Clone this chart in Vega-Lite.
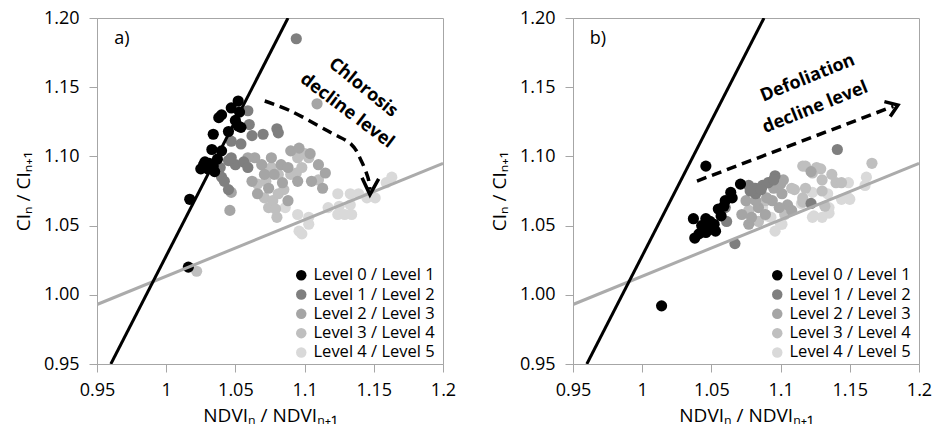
{
  "$schema": "https://vega.github.io/schema/vega-lite/v6.json",
  "background": "white",
  "padding": {"left": 13, "top": 8, "right": 0, "bottom": 5},
  "spacing": 32,
  "config": {
    "font": "Open Sans",
    "view": {"stroke": "#a6a6a6", "strokeWidth": 1},
    "axis": {"grid": false, "domainColor": "#a6a6a6", "tickColor": "#a6a6a6", "labelColor": "#000000", "labelFontSize": 18, "titleFontSize": 19, "titleFontWeight": "normal", "titleColor": "#000000", "tickSize": 8, "labelFlush": false},
    "axisX": {"labelPadding": 9, "titlePadding": 7},
    "axisY": {"labelPadding": 10, "titlePadding": 10}
  },
  "resolve": {"scale": {"color": "independent"}, "legend": {"color": "independent"}},
  "datasets": {
    "points": [
      {"panel":"a","level":"Level 4 / Level 5","x":1.163,"y":1.085},{"panel":"a","level":"Level 4 / Level 5","x":1.159,"y":1.081},{"panel":"a","level":"Level 4 / Level 5","x":1.151,"y":1.070},{"panel":"a","level":"Level 4 / Level 5","x":1.145,"y":1.070},{"panel":"a","level":"Level 4 / Level 5","x":1.139,"y":1.073},{"panel":"a","level":"Level 4 / Level 5","x":1.133,"y":1.073},{"panel":"a","level":"Level 4 / Level 5","x":1.133,"y":1.065},{"panel":"a","level":"Level 4 / Level 5","x":1.124,"y":1.073},{"panel":"a","level":"Level 4 / Level 5","x":1.124,"y":1.058},{"panel":"a","level":"Level 4 / Level 5","x":1.117,"y":1.063},{"panel":"a","level":"Level 4 / Level 5","x":1.103,"y":1.056},{"panel":"a","level":"Level 4 / Level 5","x":1.096,"y":1.046},{"panel":"a","level":"Level 4 / Level 5","x":1.103,"y":1.051},{"panel":"a","level":"Level 4 / Level 5","x":1.095,"y":1.058},{"panel":"a","level":"Level 4 / Level 5","x":1.086,"y":1.063},{"panel":"a","level":"Level 4 / Level 5","x":1.129,"y":1.058},{"panel":"a","level":"Level 4 / Level 5","x":1.134,"y":1.058},{"panel":"a","level":"Level 4 / Level 5","x":1.125,"y":1.064},{"panel":"a","level":"Level 4 / Level 5","x":1.098,"y":1.044},
      {"panel":"a","level":"Level 3 / Level 4","x":1.066,"y":1.080},{"panel":"a","level":"Level 3 / Level 4","x":1.071,"y":1.070},{"panel":"a","level":"Level 3 / Level 4","x":1.074,"y":1.063},{"panel":"a","level":"Level 3 / Level 4","x":1.080,"y":1.056},{"panel":"a","level":"Level 3 / Level 4","x":1.077,"y":1.068},{"panel":"a","level":"Level 3 / Level 4","x":1.081,"y":1.073},{"panel":"a","level":"Level 3 / Level 4","x":1.095,"y":1.099},{"panel":"a","level":"Level 3 / Level 4","x":1.100,"y":1.102},{"panel":"a","level":"Level 3 / Level 4","x":1.103,"y":1.099},{"panel":"a","level":"Level 3 / Level 4","x":1.094,"y":1.088},{"panel":"a","level":"Level 3 / Level 4","x":1.110,"y":1.083},{"panel":"a","level":"Level 3 / Level 4","x":1.081,"y":1.087},{"panel":"a","level":"Level 3 / Level 4","x":1.090,"y":1.087},{"panel":"a","level":"Level 3 / Level 4","x":1.076,"y":1.092},{"panel":"a","level":"Level 3 / Level 4","x":1.085,"y":1.076},{"panel":"a","level":"Level 3 / Level 4","x":1.072,"y":1.082},{"panel":"a","level":"Level 3 / Level 4","x":1.022,"y":1.017},{"panel":"a","level":"Level 3 / Level 4","x":1.079,"y":1.062},{"panel":"a","level":"Level 3 / Level 4","x":1.098,"y":1.092},
      {"panel":"a","level":"Level 2 / Level 3","x":1.109,"y":1.138},{"panel":"a","level":"Level 2 / Level 3","x":1.046,"y":1.061},{"panel":"a","level":"Level 2 / Level 3","x":1.047,"y":1.074},{"panel":"a","level":"Level 2 / Level 3","x":1.064,"y":1.099},{"panel":"a","level":"Level 2 / Level 3","x":1.069,"y":1.094},{"panel":"a","level":"Level 2 / Level 3","x":1.076,"y":1.099},{"panel":"a","level":"Level 2 / Level 3","x":1.083,"y":1.094},{"panel":"a","level":"Level 2 / Level 3","x":1.088,"y":1.092},{"panel":"a","level":"Level 2 / Level 3","x":1.090,"y":1.104},{"panel":"a","level":"Level 2 / Level 3","x":1.096,"y":1.106},{"panel":"a","level":"Level 2 / Level 3","x":1.104,"y":1.102},{"panel":"a","level":"Level 2 / Level 3","x":1.110,"y":1.094},{"panel":"a","level":"Level 2 / Level 3","x":1.115,"y":1.088},{"panel":"a","level":"Level 2 / Level 3","x":1.113,"y":1.077},{"panel":"a","level":"Level 2 / Level 3","x":1.105,"y":1.082},{"panel":"a","level":"Level 2 / Level 3","x":1.095,"y":1.082},{"panel":"a","level":"Level 2 / Level 3","x":1.084,"y":1.081},{"panel":"a","level":"Level 2 / Level 3","x":1.074,"y":1.077},{"panel":"a","level":"Level 2 / Level 3","x":1.066,"y":1.073},{"panel":"a","level":"Level 2 / Level 3","x":1.062,"y":1.082},{"panel":"a","level":"Level 2 / Level 3","x":1.088,"y":1.068},{"panel":"a","level":"Level 2 / Level 3","x":1.059,"y":1.099},{"panel":"a","level":"Level 2 / Level 3","x":1.071,"y":1.087},{"panel":"a","level":"Level 2 / Level 3","x":1.078,"y":1.087},
      {"panel":"a","level":"Level 1 / Level 2","x":1.094,"y":1.185},{"panel":"a","level":"Level 1 / Level 2","x":1.059,"y":1.133},{"panel":"a","level":"Level 1 / Level 2","x":1.060,"y":1.123},{"panel":"a","level":"Level 1 / Level 2","x":1.070,"y":1.116},{"panel":"a","level":"Level 1 / Level 2","x":1.080,"y":1.120},{"panel":"a","level":"Level 1 / Level 2","x":1.081,"y":1.117},{"panel":"a","level":"Level 1 / Level 2","x":1.062,"y":1.115},{"panel":"a","level":"Level 1 / Level 2","x":1.047,"y":1.111},{"panel":"a","level":"Level 1 / Level 2","x":1.054,"y":1.109},{"panel":"a","level":"Level 1 / Level 2","x":1.045,"y":1.097},{"panel":"a","level":"Level 1 / Level 2","x":1.050,"y":1.094},{"panel":"a","level":"Level 1 / Level 2","x":1.056,"y":1.096},{"panel":"a","level":"Level 1 / Level 2","x":1.040,"y":1.085},{"panel":"a","level":"Level 1 / Level 2","x":1.042,"y":1.082},{"panel":"a","level":"Level 1 / Level 2","x":1.045,"y":1.076},{"panel":"a","level":"Level 1 / Level 2","x":1.059,"y":1.092},{"panel":"a","level":"Level 1 / Level 2","x":1.039,"y":1.092},{"panel":"a","level":"Level 1 / Level 2","x":1.047,"y":1.099},
      {"panel":"a","level":"Level 0 / Level 1","x":1.052,"y":1.140},{"panel":"a","level":"Level 0 / Level 1","x":1.047,"y":1.135},{"panel":"a","level":"Level 0 / Level 1","x":1.040,"y":1.130},{"panel":"a","level":"Level 0 / Level 1","x":1.038,"y":1.128},{"panel":"a","level":"Level 0 / Level 1","x":1.053,"y":1.132},{"panel":"a","level":"Level 0 / Level 1","x":1.050,"y":1.126},{"panel":"a","level":"Level 0 / Level 1","x":1.052,"y":1.122},{"panel":"a","level":"Level 0 / Level 1","x":1.034,"y":1.116},{"panel":"a","level":"Level 0 / Level 1","x":1.045,"y":1.118},{"panel":"a","level":"Level 0 / Level 1","x":1.054,"y":1.121},{"panel":"a","level":"Level 0 / Level 1","x":1.033,"y":1.105},{"panel":"a","level":"Level 0 / Level 1","x":1.040,"y":1.104},{"panel":"a","level":"Level 0 / Level 1","x":1.037,"y":1.098},{"panel":"a","level":"Level 0 / Level 1","x":1.027,"y":1.094},{"panel":"a","level":"Level 0 / Level 1","x":1.025,"y":1.091},{"panel":"a","level":"Level 0 / Level 1","x":1.030,"y":1.091},{"panel":"a","level":"Level 0 / Level 1","x":1.034,"y":1.093},{"panel":"a","level":"Level 0 / Level 1","x":1.035,"y":1.089},{"panel":"a","level":"Level 0 / Level 1","x":1.028,"y":1.096},{"panel":"a","level":"Level 0 / Level 1","x":1.031,"y":1.095},{"panel":"a","level":"Level 0 / Level 1","x":1.017,"y":1.069},{"panel":"a","level":"Level 0 / Level 1","x":1.016,"y":1.020},
      {"panel":"b","level":"Level 4 / Level 5","x":1.162,"y":1.085},{"panel":"b","level":"Level 4 / Level 5","x":1.161,"y":1.079},{"panel":"b","level":"Level 4 / Level 5","x":1.149,"y":1.081},{"panel":"b","level":"Level 4 / Level 5","x":1.123,"y":1.074},{"panel":"b","level":"Level 4 / Level 5","x":1.134,"y":1.073},{"panel":"b","level":"Level 4 / Level 5","x":1.144,"y":1.069},{"panel":"b","level":"Level 4 / Level 5","x":1.150,"y":1.069},{"panel":"b","level":"Level 4 / Level 5","x":1.124,"y":1.057},{"panel":"b","level":"Level 4 / Level 5","x":1.135,"y":1.059},{"panel":"b","level":"Level 4 / Level 5","x":1.096,"y":1.046},{"panel":"b","level":"Level 4 / Level 5","x":1.101,"y":1.051},{"panel":"b","level":"Level 4 / Level 5","x":1.087,"y":1.063},{"panel":"b","level":"Level 4 / Level 5","x":1.090,"y":1.057},{"panel":"b","level":"Level 4 / Level 5","x":1.100,"y":1.051},{"panel":"b","level":"Level 4 / Level 5","x":1.093,"y":1.056},{"panel":"b","level":"Level 4 / Level 5","x":1.130,"y":1.056},{"panel":"b","level":"Level 4 / Level 5","x":1.135,"y":1.063},{"panel":"b","level":"Level 4 / Level 5","x":1.149,"y":1.070},{"panel":"b","level":"Level 4 / Level 5","x":1.123,"y":1.056},{"panel":"b","level":"Level 4 / Level 5","x":1.115,"y":1.066},
      {"panel":"b","level":"Level 3 / Level 4","x":1.116,"y":1.093},{"panel":"b","level":"Level 3 / Level 4","x":1.126,"y":1.092},{"panel":"b","level":"Level 3 / Level 4","x":1.137,"y":1.087},{"panel":"b","level":"Level 3 / Level 4","x":1.130,"y":1.083},{"panel":"b","level":"Level 3 / Level 4","x":1.140,"y":1.081},{"panel":"b","level":"Level 3 / Level 4","x":1.144,"y":1.081},{"panel":"b","level":"Level 3 / Level 4","x":1.166,"y":1.095},{"panel":"b","level":"Level 3 / Level 4","x":1.110,"y":1.076},{"panel":"b","level":"Level 3 / Level 4","x":1.116,"y":1.067},{"panel":"b","level":"Level 3 / Level 4","x":1.132,"y":1.064},{"panel":"b","level":"Level 3 / Level 4","x":1.118,"y":1.093},{"panel":"b","level":"Level 3 / Level 4","x":1.123,"y":1.088},{"panel":"b","level":"Level 3 / Level 4","x":1.129,"y":1.091},{"panel":"b","level":"Level 3 / Level 4","x":1.130,"y":1.075},{"panel":"b","level":"Level 3 / Level 4","x":1.118,"y":1.077},{"panel":"b","level":"Level 3 / Level 4","x":1.108,"y":1.077},{"panel":"b","level":"Level 3 / Level 4","x":1.089,"y":1.068},{"panel":"b","level":"Level 3 / Level 4","x":1.084,"y":1.053},{"panel":"b","level":"Level 3 / Level 4","x":1.077,"y":1.061},{"panel":"b","level":"Level 3 / Level 4","x":1.103,"y":1.058},{"panel":"b","level":"Level 3 / Level 4","x":1.116,"y":1.070},
      {"panel":"b","level":"Level 2 / Level 3","x":1.075,"y":1.068},{"panel":"b","level":"Level 2 / Level 3","x":1.072,"y":1.058},{"panel":"b","level":"Level 2 / Level 3","x":1.077,"y":1.051},{"panel":"b","level":"Level 2 / Level 3","x":1.084,"y":1.063},{"panel":"b","level":"Level 2 / Level 3","x":1.089,"y":1.058},{"panel":"b","level":"Level 2 / Level 3","x":1.094,"y":1.068},{"panel":"b","level":"Level 2 / Level 3","x":1.095,"y":1.077},{"panel":"b","level":"Level 2 / Level 3","x":1.101,"y":1.073},{"panel":"b","level":"Level 2 / Level 3","x":1.105,"y":1.065},{"panel":"b","level":"Level 2 / Level 3","x":1.108,"y":1.061},{"panel":"b","level":"Level 2 / Level 3","x":1.099,"y":1.063},{"panel":"b","level":"Level 2 / Level 3","x":1.082,"y":1.068},{"panel":"b","level":"Level 2 / Level 3","x":1.079,"y":1.056},{"panel":"b","level":"Level 2 / Level 3","x":1.122,"y":1.089},{"panel":"b","level":"Level 2 / Level 3","x":1.095,"y":1.083},{"panel":"b","level":"Level 2 / Level 3","x":1.102,"y":1.083},{"panel":"b","level":"Level 2 / Level 3","x":1.090,"y":1.070},{"panel":"b","level":"Level 2 / Level 3","x":1.100,"y":1.080},
      {"panel":"b","level":"Level 1 / Level 2","x":1.141,"y":1.105},{"panel":"b","level":"Level 1 / Level 2","x":1.067,"y":1.037},{"panel":"b","level":"Level 1 / Level 2","x":1.077,"y":1.079},{"panel":"b","level":"Level 1 / Level 2","x":1.082,"y":1.077},{"panel":"b","level":"Level 1 / Level 2","x":1.087,"y":1.079},{"panel":"b","level":"Level 1 / Level 2","x":1.091,"y":1.081},{"panel":"b","level":"Level 1 / Level 2","x":1.096,"y":1.086},{"panel":"b","level":"Level 1 / Level 2","x":1.060,"y":1.063},{"panel":"b","level":"Level 1 / Level 2","x":1.061,"y":1.053},{"panel":"b","level":"Level 1 / Level 2","x":1.082,"y":1.073},{"panel":"b","level":"Level 1 / Level 2","x":1.122,"y":1.066},{"panel":"b","level":"Level 1 / Level 2","x":1.081,"y":1.077},{"panel":"b","level":"Level 1 / Level 2","x":1.078,"y":1.075},{"panel":"b","level":"Level 1 / Level 2","x":1.086,"y":1.076},{"panel":"b","level":"Level 1 / Level 2","x":1.095,"y":1.083},
      {"panel":"b","level":"Level 0 / Level 1","x":1.046,"y":1.093},{"panel":"b","level":"Level 0 / Level 1","x":1.014,"y":0.992},{"panel":"b","level":"Level 0 / Level 1","x":1.071,"y":1.080},{"panel":"b","level":"Level 0 / Level 1","x":1.064,"y":1.074},{"panel":"b","level":"Level 0 / Level 1","x":1.065,"y":1.070},{"panel":"b","level":"Level 0 / Level 1","x":1.059,"y":1.064},{"panel":"b","level":"Level 0 / Level 1","x":1.055,"y":1.062},{"panel":"b","level":"Level 0 / Level 1","x":1.049,"y":1.053},{"panel":"b","level":"Level 0 / Level 1","x":1.046,"y":1.055},{"panel":"b","level":"Level 0 / Level 1","x":1.037,"y":1.055},{"panel":"b","level":"Level 0 / Level 1","x":1.043,"y":1.050},{"panel":"b","level":"Level 0 / Level 1","x":1.048,"y":1.047},{"panel":"b","level":"Level 0 / Level 1","x":1.053,"y":1.046},{"panel":"b","level":"Level 0 / Level 1","x":1.038,"y":1.041},{"panel":"b","level":"Level 0 / Level 1","x":1.046,"y":1.045},{"panel":"b","level":"Level 0 / Level 1","x":1.052,"y":1.051},{"panel":"b","level":"Level 0 / Level 1","x":1.057,"y":1.057},{"panel":"b","level":"Level 0 / Level 1","x":1.060,"y":1.068},{"panel":"b","level":"Level 0 / Level 1","x":1.041,"y":1.044},{"panel":"b","level":"Level 0 / Level 1","x":1.050,"y":1.049}
    ],
    "lines": [
      {"line":"black","x":0.96,"y":0.95},{"line":"black","x":1.088,"y":1.2},
      {"line":"gray","x":0.95,"y":0.993},{"line":"gray","x":1.2,"y":1.095}
    ],
    "arrows": [
      {"panel":"a","part":"shaft","i":0,"x":1.0712,"y":1.140},{"panel":"a","part":"shaft","i":1,"x":1.090,"y":1.1328},{"panel":"a","part":"shaft","i":2,"x":1.1169,"y":1.1183},{"panel":"a","part":"shaft","i":3,"x":1.1337,"y":1.1087},{"panel":"a","part":"shaft","i":4,"x":1.141,"y":1.0967},{"panel":"a","part":"shaft","i":5,"x":1.1458,"y":1.0846},{"panel":"a","part":"shaft","i":6,"x":1.1472,"y":1.076},
      {"panel":"a","part":"head","i":0,"x":1.1415,"y":1.0846},{"panel":"a","part":"head","i":1,"x":1.1472,"y":1.0724},{"panel":"a","part":"head","i":2,"x":1.1535,"y":1.0838},
      {"panel":"b","part":"shaft","i":0,"x":1.0396,"y":1.0822},{"panel":"b","part":"shaft","i":1,"x":1.1815,"y":1.1362},
      {"panel":"b","part":"head","i":0,"x":1.1750,"y":1.1396},{"panel":"b","part":"head","i":1,"x":1.1848,"y":1.1371},{"panel":"b","part":"head","i":2,"x":1.1792,"y":1.1288}
    ],
    "labels": [
      {"panel":"a","kind":"tag","x":0.968,"y":1.185,"text":"a)"},
      {"panel":"a","kind":"r1","x":1.1422,"y":1.1496,"text":"Chlorosis"},
      {"panel":"a","kind":"r2","x":1.1306,"y":1.1328,"text":"decline level"},
      {"panel":"b","kind":"tag","x":0.968,"y":1.185,"text":"b)"},
      {"panel":"b","kind":"r1","x":1.1196,"y":1.1564,"text":"Defoliation"},
      {"panel":"b","kind":"r2","x":1.1251,"y":1.1352,"text":"decline level"}
    ]
  },
  "hconcat": [
    {
      "width": 346, "height": 346,
      "encoding": {
        "x": {"field": "x", "type": "quantitative", "scale": {"domain": [0.95, 1.2], "nice": false, "zero": false}, "axis": {"values": [0.95, 1, 1.05, 1.1, 1.15, 1.2], "format": "~g", "title": "NDVIₙ / NDVIₙ₊₁"}},
        "y": {"field": "y", "type": "quantitative", "scale": {"domain": [0.95, 1.2], "nice": false, "zero": false}, "axis": {"values": [0.95, 1, 1.05, 1.1, 1.15, 1.2], "format": ".2f", "title": "CIₙ / CIₙ₊₁"}}
      },
      "layer": [
        {"data": {"name": "points"}, "transform": [{"filter": "datum.panel === 'a'"}],
         "mark": {"type": "circle", "size": 125, "opacity": 1},
         "encoding": {
           "color": {"field": "level", "type": "nominal", "scale": {"domain": ["Level 0 / Level 1", "Level 1 / Level 2", "Level 2 / Level 3", "Level 3 / Level 4", "Level 4 / Level 5"], "range": ["#000000", "#7f7f7f", "#a5a5a5", "#bfbfbf", "#d9d9d9"]},
             "legend": {"orient": "none", "legendX": 196, "legendY": 249, "title": null, "labelFontSize": 16.5, "labelColor": "#000000", "symbolSize": 110, "symbolType": "circle", "symbolStrokeWidth": 0, "rowPadding": 2.3, "labelOffset": 4}},
           "order": {"field": "level", "sort": "descending"}
         }},
        {"data": {"name": "lines"}, "transform": [{"filter": "datum.line === 'gray'"}], "mark": {"type": "line", "color": "#ababab", "strokeWidth": 3, "clip": true}, "encoding": {}},
        {"data": {"name": "lines"}, "transform": [{"filter": "datum.line === 'black'"}], "mark": {"type": "line", "color": "#000000", "strokeWidth": 3, "clip": true}, "encoding": {}},
        {"data": {"name": "arrows"}, "transform": [{"filter": "datum.panel === 'a' && datum.part === 'shaft'"}], "mark": {"type": "line", "color": "#000000", "strokeWidth": 3.5, "strokeDash": [10, 6], "interpolate": "cardinal"}, "encoding": {"order": {"field": "i"}}},
        {"data": {"name": "arrows"}, "transform": [{"filter": "datum.panel === 'a' && datum.part === 'head'"}], "mark": {"type": "line", "color": "#000000", "strokeWidth": 3.5, "strokeJoin": "miter"}, "encoding": {"order": {"field": "i"}}},
        {"data": {"name": "labels"}, "transform": [{"filter": "datum.panel === 'a' && datum.kind === 'tag'"}], "mark": {"type": "text", "fontSize": 18, "color": "#000000"}, "encoding": {"text": {"field": "text"}}},
        {"data": {"name": "labels"}, "transform": [{"filter": "datum.panel === 'a' && datum.kind === 'r1'"}], "mark": {"type": "text", "fontSize": 18, "fontWeight": "bold", "angle": 39, "color": "#000000"}, "encoding": {"text": {"field": "text"}}},
        {"data": {"name": "labels"}, "transform": [{"filter": "datum.panel === 'a' && datum.kind === 'r2'"}], "mark": {"type": "text", "fontSize": 18, "fontWeight": "bold", "angle": 37, "color": "#000000"}, "encoding": {"text": {"field": "text"}}}
      ]
    },
    {
      "width": 346, "height": 346,
      "encoding": {
        "x": {"field": "x", "type": "quantitative", "scale": {"domain": [0.95, 1.2], "nice": false, "zero": false}, "axis": {"values": [0.95, 1, 1.05, 1.1, 1.15, 1.2], "format": "~g", "title": "NDVIₙ / NDVIₙ₊₁"}},
        "y": {"field": "y", "type": "quantitative", "scale": {"domain": [0.95, 1.2], "nice": false, "zero": false}, "axis": {"values": [0.95, 1, 1.05, 1.1, 1.15, 1.2], "format": ".2f", "title": "CIₙ / CIₙ₊₁"}}
      },
      "layer": [
        {"data": {"name": "points"}, "transform": [{"filter": "datum.panel === 'b'"}],
         "mark": {"type": "circle", "size": 125, "opacity": 1},
         "encoding": {
           "color": {"field": "level", "type": "nominal", "scale": {"domain": ["Level 0 / Level 1", "Level 1 / Level 2", "Level 2 / Level 3", "Level 3 / Level 4", "Level 4 / Level 5"], "range": ["#000000", "#7f7f7f", "#a5a5a5", "#bfbfbf", "#d9d9d9"]},
             "legend": {"orient": "none", "legendX": 196, "legendY": 249, "title": null, "labelFontSize": 16.5, "labelColor": "#000000", "symbolSize": 110, "symbolType": "circle", "symbolStrokeWidth": 0, "rowPadding": 2.3, "labelOffset": 4}},
           "order": {"field": "level", "sort": "descending"}
         }},
        {"data": {"name": "lines"}, "transform": [{"filter": "datum.line === 'gray'"}], "mark": {"type": "line", "color": "#ababab", "strokeWidth": 3, "clip": true}, "encoding": {}},
        {"data": {"name": "lines"}, "transform": [{"filter": "datum.line === 'black'"}], "mark": {"type": "line", "color": "#000000", "strokeWidth": 3, "clip": true}, "encoding": {}},
        {"data": {"name": "arrows"}, "transform": [{"filter": "datum.panel === 'b' && datum.part === 'shaft'"}], "mark": {"type": "line", "color": "#000000", "strokeWidth": 3.5, "strokeDash": [10, 6]}, "encoding": {"order": {"field": "i"}}},
        {"data": {"name": "arrows"}, "transform": [{"filter": "datum.panel === 'b' && datum.part === 'head'"}], "mark": {"type": "line", "color": "#000000", "strokeWidth": 3.5, "strokeJoin": "miter"}, "encoding": {"order": {"field": "i"}}},
        {"data": {"name": "labels"}, "transform": [{"filter": "datum.panel === 'b' && datum.kind === 'tag'"}], "mark": {"type": "text", "fontSize": 18, "color": "#000000"}, "encoding": {"text": {"field": "text"}}},
        {"data": {"name": "labels"}, "transform": [{"filter": "datum.panel === 'b' && datum.kind === 'r1'"}], "mark": {"type": "text", "fontSize": 18, "fontWeight": "bold", "angle": -22, "color": "#000000"}, "encoding": {"text": {"field": "text"}}},
        {"data": {"name": "labels"}, "transform": [{"filter": "datum.panel === 'b' && datum.kind === 'r2'"}], "mark": {"type": "text", "fontSize": 18, "fontWeight": "bold", "angle": -22, "color": "#000000"}, "encoding": {"text": {"field": "text"}}}
      ]
    }
  ]
}
